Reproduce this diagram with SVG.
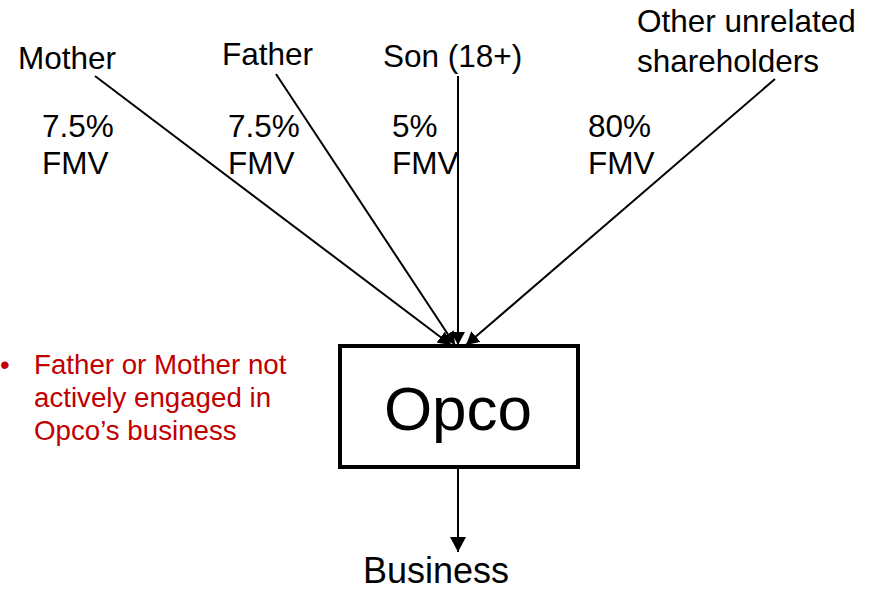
<svg xmlns="http://www.w3.org/2000/svg" width="872" height="592" viewBox="0 0 872 592">
<style>
  .lbl { font-family: "Liberation Sans", Arial, sans-serif; font-size: 31.5px; fill: #000; }
  .red { font-family: "Liberation Sans", Arial, sans-serif; font-size: 27.7px; fill: #C00000; }
  .conn { stroke: #000; stroke-width: 2; fill: none; }
</style>
<defs>
  <marker id="ah" markerUnits="userSpaceOnUse" markerWidth="14" markerHeight="14" refX="13" refY="7" orient="auto">
    <path d="M0,0 L13,7 L0,14 Z" fill="#000"/>
  </marker>
  <marker id="ah2" markerUnits="userSpaceOnUse" markerWidth="16" markerHeight="16" refX="15" refY="8" orient="auto">
    <path d="M0,0 L15,8 L0,16 Z" fill="#000"/>
  </marker>
</defs>
<rect width="872" height="592" fill="#fff"/>
<g id="connectors">
  <line class="conn" x1="95" y1="76" x2="451" y2="345" marker-end="url(#ah)"/>
  <line class="conn" x1="276" y1="74" x2="455" y2="345" marker-end="url(#ah)"/>
  <line class="conn" x1="458" y1="76" x2="458" y2="345" marker-end="url(#ah)"/>
  <line class="conn" x1="775" y1="79" x2="466" y2="345" marker-end="url(#ah)"/>
  <line class="conn" x1="458" y1="468" x2="458" y2="552" marker-end="url(#ah2)"/>
</g>
<g id="mother">
  <text class="lbl" x="18" y="69">Mother</text>
  <text class="lbl" x="42" y="137">7.5%</text>
  <text class="lbl" x="42" y="174">FMV</text>
</g>
<g id="father">
  <text class="lbl" x="222" y="65">Father</text>
  <text class="lbl" x="228" y="137">7.5%</text>
  <text class="lbl" x="228" y="174">FMV</text>
</g>
<g id="son">
  <text class="lbl" x="383" y="67">Son (18+)</text>
  <text class="lbl" x="392" y="137">5%</text>
  <text class="lbl" x="392" y="174">FMV</text>
</g>
<g id="others">
  <text class="lbl" x="637" y="32">Other unrelated</text>
  <text class="lbl" x="637" y="72">shareholders</text>
  <text class="lbl" x="588" y="137">80%</text>
  <text class="lbl" x="588" y="174">FMV</text>
</g>
<g id="opco">
  <rect x="340" y="346" width="238" height="121" fill="#fff" stroke="#000" stroke-width="4"/>
  <text x="458" y="430" text-anchor="middle" font-family="Liberation Sans, Arial, sans-serif" font-size="62">Opco</text>
</g>
<g id="business">
  <text class="lbl" x="436" y="583" text-anchor="middle" style="font-size:36px">Business</text>
</g>
<g id="note">
  <text class="red" x="0" y="374">•</text>
  <text class="red" x="34" y="374">Father or Mother not</text>
  <text class="red" x="34" y="407">actively engaged in</text>
  <text class="red" x="34" y="440">Opco’s business</text>
</g>
</svg>
